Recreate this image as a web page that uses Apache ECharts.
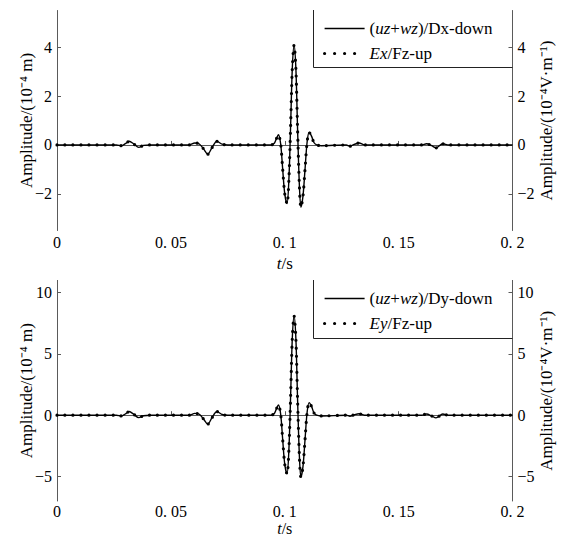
<!DOCTYPE html>
<html>
<head>
<meta charset="utf-8">
<script src="https://cdn.jsdelivr.net/npm/echarts@6/dist/echarts.min.js"></script>
<style>
html,body{margin:0;padding:0;background:#fff;}
#c{width:561px;height:536px;}
</style>
</head>
<body>
<div id="c"></div>
<script>
// ---- data ----
var times = [0, 0.026, 0.0283, 0.0300, 0.0317, 0.0337, 0.0359, 0.0380, 0.0410, 0.0580, 0.0605, 0.0625, 0.0645, 0.0662, 0.0680, 0.0702, 0.0725, 0.0750, 0.0940, 0.0955, 0.0963, 0.0972, 0.0982, 0.0991, 0.1000, 0.1010, 0.1018, 0.1026, 0.1033, 0.1041, 0.1049, 0.1056, 0.1064, 0.1071, 0.1080, 0.1089, 0.1098, 0.1107, 0.1118, 0.1128, 0.1140, 0.1160, 0.1270, 0.1286, 0.1305, 0.1327, 0.1350, 0.1600, 0.1623, 0.1645, 0.1664, 0.1694, 0.1720, 0.2000];

var dxDown = [0, 0, -0.03, 0.05, 0.15, 0.04, -0.10, -0.02, 0, 0, 0.08, 0.04, -0.18, -0.38, -0.12, 0.15, 0.03, 0, 0, 0.08, 0.25, 0.42, 0.05, -1.0, -2.0, -2.4, -1.45, 0.85, 3.1, 4.09, 3.1, 0.75, -1.6, -2.55, -2.1, -1.0, 0.1, 0.52, 0.35, 0.1, 0, -0.03, 0, -0.05, 0.02, 0.08, 0, 0, 0.05, -0.03, -0.12, 0.05, 0, 0];
var exFzUp = [0, 0, -0.03, 0.05, 0.15, 0.04, -0.10, -0.02, 0, 0, 0.08, 0.04, -0.18, -0.38, -0.12, 0.15, 0.03, 0, 0, 0.08, 0.25, 0.42, 0.05, -1.0, -2.0, -2.4, -1.45, 0.85, 3.1, 4.09, 3.1, 0.75, -1.6, -2.55, -2.1, -1.0, 0.1, 0.52, 0.35, 0.1, 0, -0.03, 0, -0.05, 0.02, 0.08, 0, 0, 0.05, -0.03, -0.12, 0.05, 0, 0];

var dyDown = [0, 0, -0.06, 0.1, 0.3, 0.08, -0.2, -0.04, 0, 0, 0.15, 0.08, -0.35, -0.73, -0.22, 0.3, 0.06, 0, 0, 0.16, 0.5, 0.84, 0.1, -2.0, -4.0, -4.79, -2.9, 1.7, 6.2, 8.1, 6.2, 1.5, -3.2, -5.06, -4.2, -2.0, 0.2, 1.03, 0.7, 0.2, 0, -0.06, 0, -0.08, 0.04, 0.12, 0, 0, 0.1, -0.06, -0.22, 0.1, 0, 0];
var eyFzUp = [0, 0, -0.06, 0.1, 0.3, 0.08, -0.2, -0.04, 0, 0, 0.15, 0.08, -0.35, -0.73, -0.22, 0.3, 0.06, 0, 0, 0.16, 0.5, 0.84, 0.1, -2.0, -4.0, -4.79, -2.9, 1.7, 6.2, 8.1, 6.2, 1.5, -3.2, -5.06, -4.2, -2.0, 0.2, 1.03, 0.7, 0.2, 0, -0.06, 0, -0.08, 0.04, 0.12, 0, 0, 0.1, -0.06, -0.22, 0.1, 0, 0];

var xTickValues = [0, 0.05, 0.1, 0.15, 0.2];
var xTickLabels = ['0', '0. 05', '0. 1', '0. 15', '0. 2'];
var yTicksTop = [-2, 0, 2, 4];
var yTicksBottom = [-5, 0, 5, 10];

var legendLabels = {
  dx: '({i|uz}+{i|wz})/Dx-down',
  ex: '{i|Ex}/Fz-up',
  dy: '({i|uz}+{i|wz})/Dy-down',
  ey: '{i|Ey}/Fz-up'
};
var leftName = 'Amplitude/(10⁻⁴ m)';
var rightName = 'Amplitude/(10⁻⁴V·m⁻¹)';

// ---- build ----
var FONT = '"Liberation Serif","Times New Roman",serif';
var AXIS_COLOR = '#5a5a5a';
function pairs(xs, ys){ return xs.map(function(x,i){ return [x, ys[i]]; }); }
function yFmt(v){ return v < 0 ? '\u2212' + (-v) : String(v); }
function xFmt(v){ var i = xTickValues.findIndex(function(t){ return Math.abs(t - v) < 1e-9; }); return i >= 0 ? xTickLabels[i] : ''; }

var gridL = 57, gridR = 48.5;
var grids = [
  {left: gridL, right: gridR, top: 10.5, height: 220, containLabel: false, outerBoundsMode: 'none'},
  {left: gridL, right: gridR, top: 280.4, height: 220.6, containLabel: false, outerBoundsMode: 'none'}
];

function xAxis(gi, gap, nameSize, labelMargin){
  return {
    gridIndex: gi, type: 'value', min: 0, max: 0.2, interval: 0.05,
    axisLine: {show: true, lineStyle: {color: AXIS_COLOR, width: 1}},
    axisTick: {show: true, inside: true, length: 4, lineStyle: {color: AXIS_COLOR}},
    axisLabel: {formatter: xFmt, color: '#000', fontFamily: FONT, fontSize: 16, margin: labelMargin, lineHeight: 16},
    splitLine: {show: false},
    name: '{i|t}/s', nameLocation: 'middle', nameGap: gap, nameMoveOverlap: false,
    nameTextStyle: {color: '#000', fontFamily: FONT, fontSize: nameSize, lineHeight: nameSize,
      rich: {i: {fontStyle: 'italic', fontFamily: FONT, fontSize: nameSize, lineHeight: nameSize, color: '#000'}}}
  };
}
function yAxis(gi, pos, mn, mx, ticks, name, gap){
  return {
    gridIndex: gi, type: 'value', position: pos, min: mn, max: mx,
    axisLine: {show: true, onZero: false, lineStyle: {color: AXIS_COLOR, width: 1}},
    axisTick: {show: true, inside: true, length: 4, customValues: ticks, lineStyle: {color: AXIS_COLOR}},
    axisLabel: {customValues: ticks, formatter: yFmt, color: '#000', fontFamily: FONT, fontSize: 16, margin: 5},
    splitLine: {show: false},
    name: name, nameLocation: 'middle', nameRotate: 90, nameGap: gap, nameMoveOverlap: false,
    nameTextStyle: {color: '#000', fontFamily: FONT, fontSize: 17}
  };
}

var solidStyle = {color: '#000', width: 1.4, type: 'solid'};
var dotStyle = {color: '#000', width: 3.2, type: [0, 8], cap: 'round'};

function lineSeries(name, xi, yi, data, style, z){
  return {
    name: name, type: 'line', xAxisIndex: xi, yAxisIndex: yi,
    data: data, showSymbol: false, symbol: 'none', smooth: 0.3,
    lineStyle: style, itemStyle: {color: '#000'}, z: z, animation: false
  };
}

function legend(names, top){
  return {
    orient: 'vertical', left: 313, top: top,
    padding: [10, 10, 5, 10], itemGap: 8, itemWidth: 40, itemHeight: 14,
    data: [
      {name: names[0], itemStyle: {opacity: 0, borderWidth: 0}, lineStyle: {color: '#000', width: 1.4, type: 'solid'}},
      {name: names[1], itemStyle: {opacity: 0, borderWidth: 0}, lineStyle: {color: '#000', width: 3.2, type: [0, 10], cap: 'round'}}
    ],
    selectedMode: false,
    formatter: function(n){ return legendLabels[n]; },
    textStyle: {color: '#000', fontFamily: FONT, fontSize: 17, lineHeight: 16,
      rich: {i: {fontStyle: 'italic', fontFamily: FONT, fontSize: 17, lineHeight: 16, color: '#000'}}}
  };
}

var option = {
  backgroundColor: '#fff',
  animation: false,
  grid: grids,
  xAxis: [xAxis(0, 24, 17, 4), xAxis(1, 19, 16, 2)],
  yAxis: [
    yAxis(0, 'left', -3.5, 5.5, yTicksTop, leftName, 22),
    yAxis(0, 'right', -3.5, 5.5, yTicksTop, rightName, 25),
    yAxis(1, 'left', -7, 11, yTicksBottom, leftName, 22),
    yAxis(1, 'right', -7, 11, yTicksBottom, rightName, 25)
  ],
  legend: [legend(['dx', 'ex'], 10), legend(['dy', 'ey'], 280)],
  graphic: [
    {type: 'polyline', shape: {points: [[313.5, 10], [313.5, 67.5], [512.5, 67.5]]}, style: {stroke: '#222', lineWidth: 1, fill: null}, z: 100},
    {type: 'polyline', shape: {points: [[313.5, 280], [313.5, 338.5], [512.5, 338.5]]}, style: {stroke: '#222', lineWidth: 1, fill: null}, z: 100}
  ],
  series: [
    lineSeries('dx', 0, 0, pairs(times, dxDown), solidStyle, 2),
    lineSeries('ex', 0, 0, pairs(times, exFzUp), dotStyle, 3),
    lineSeries('dy', 1, 2, pairs(times, dyDown), solidStyle, 2),
    lineSeries('ey', 1, 2, pairs(times, eyFzUp), dotStyle, 3)
  ]
};

var chart = echarts.init(document.getElementById('c'), null, {renderer: 'svg'});
chart.setOption(option);
</script>
</body>
</html>
